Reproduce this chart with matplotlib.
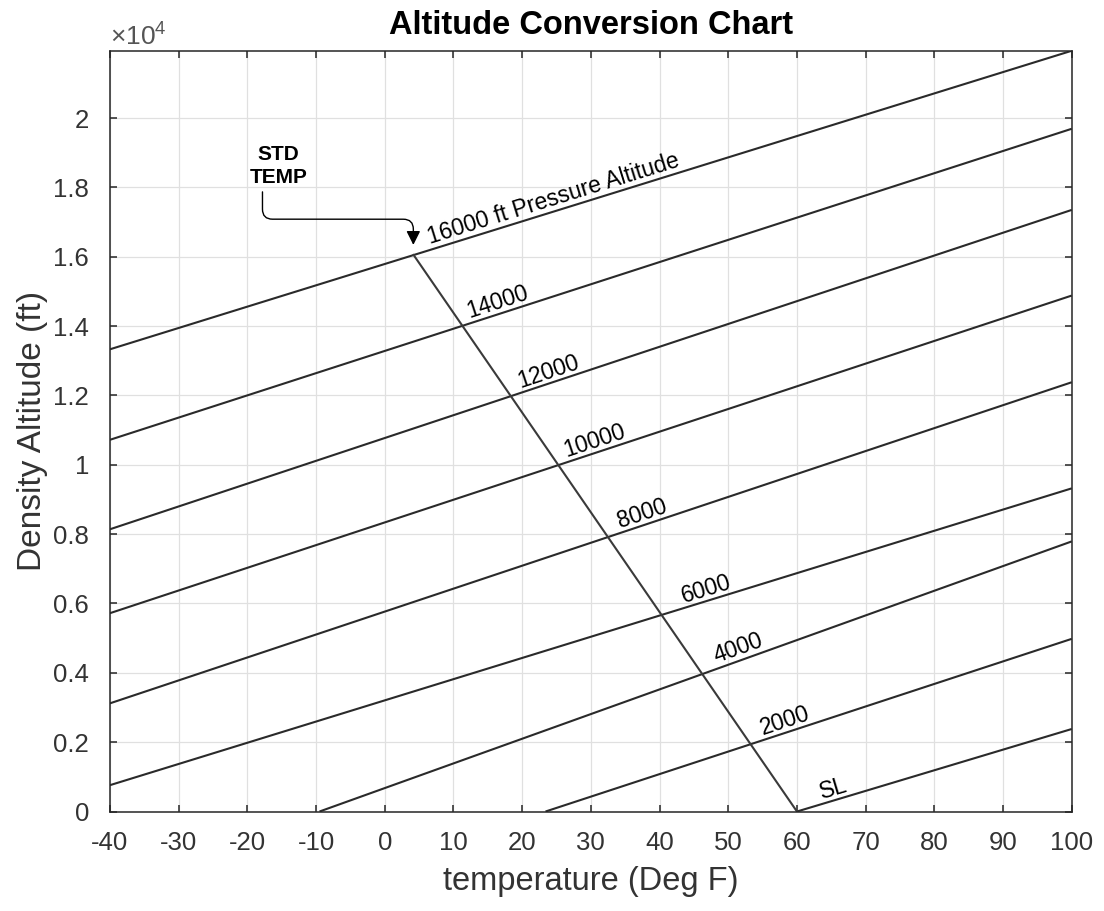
import numpy as np
import matplotlib.pyplot as plt
from matplotlib.ticker import FuncFormatter, MultipleLocator
from matplotlib.transforms import offset_copy

plt.rcParams['font.family'] = ['Liberation Sans', 'DejaVu Sans']
plt.rcParams['mathtext.fontset'] = 'custom'
plt.rcParams['mathtext.rm'] = 'Liberation Sans'
plt.rcParams['axes.unicode_minus'] = False

# Pressure altitude lines (deg F / ft density altitude)
pressure_alt = [0, 2000, 4000, 6000, 8000, 10000, 12000, 14000, 16000]
line_labels = ['SL', '2000', '4000', '6000', '8000', '10000', '12000', '14000',
               '16000 ft Pressure Altitude']
start_temp = [60, 23.4, -9.5, -40, -40, -40, -40, -40, -40]
start_da = [0, 0, 0, 760, 3120, 5720, 8140, 10720, 13330]
end_temp = [100, 100, 100, 100, 100, 100, 100, 100, 100]
end_da = [2380, 4980, 7790, 9320, 12380, 14880, 17350, 19690, 21940]
label_temp = [63.6, 55.1, 48.3, 43.5, 34.2, 26.4, 19.7, 12.3, 6.6]

# standard temperature line
std_temp = [60, 4.2]
std_da = [0, 16050]

line_color = '#2a2a2a'
axis_color = '#262626'

fig = plt.figure(figsize=(11.04, 9.11), dpi=100)
ax = fig.add_axes([0.0996, 0.1092, 0.8712, 0.8351])

for i in range(len(pressure_alt)):
    ax.plot([start_temp[i], end_temp[i]], [start_da[i], end_da[i]],
            color=line_color, lw=1.5, solid_capstyle='butt')
ax.plot(std_temp, std_da, color='#3a3a3a', lw=1.5)

ax.set_xlim(-40, 100)
ax.set_ylim(0, 21940)
ax.xaxis.set_major_locator(MultipleLocator(10))
ax.yaxis.set_major_locator(MultipleLocator(2000))
ax.yaxis.set_major_formatter(FuncFormatter(lambda v, p: '%g' % (v / 1e4)))

ax.grid(True, color='#e0e0e0', lw=0.9)
ax.set_axisbelow(True)
for s in ax.spines.values():
    s.set_color(axis_color)
    s.set_linewidth(1.1)
ax.tick_params(direction='in', length=5, width=1.1, color=axis_color,
               labelcolor='#333333', labelsize=18.5, top=True, right=True)
ax.tick_params(axis='x', pad=14)
ax.tick_params(axis='y', pad=15)

ax.set_title('Altitude Conversion Chart', fontsize=23.5, fontweight='bold',
             color='black', pad=12)
ax.set_xlabel('temperature (Deg F)', fontsize=23.5, color='#333333', labelpad=8)
ax.set_ylabel('Density Altitude (ft)', fontsize=24, color='#333333', labelpad=4)
ax.text(0.0, 1.0, r'$\times\mathregular{10^4}$', transform=ax.transAxes,
        fontsize=19, color='#555555', ha='left', va='bottom')

# labels along each line
lab_tr = offset_copy(ax.transData, fig=fig, x=0, y=4, units='points')
for i in range(len(pressure_alt)):
    p1 = ax.transData.transform((start_temp[i], start_da[i]))
    p2 = ax.transData.transform((end_temp[i], end_da[i]))
    ang = np.degrees(np.arctan2(p2[1] - p1[1], p2[0] - p1[0]))
    y = np.interp(label_temp[i], [start_temp[i], end_temp[i]], [start_da[i], end_da[i]])
    ax.text(label_temp[i], y, line_labels[i], transform=lab_tr, rotation=ang,
            rotation_mode='anchor', ha='left', va='baseline', fontsize=16.5,
            color='black')

ax.text(-15.5, 18620, 'STD\nTEMP', ha='center', va='center', fontsize=15,
        fontweight='bold', color='black', linespacing=1.25)
# arm lengths / radius in pixels
ax.annotate('', xy=(4.16, 16340), xytext=(-17.8, 17870),
            arrowprops=dict(arrowstyle='-|>,head_length=0.7,head_width=0.35',
                            connectionstyle='arc,angleA=-90,armA=27.3,angleB=90,armB=25.7,rad=10',
                            color='black', lw=1.0, shrinkA=0, shrinkB=0,
                            mutation_scale=12))

plt.savefig('out.png', dpi=100)
